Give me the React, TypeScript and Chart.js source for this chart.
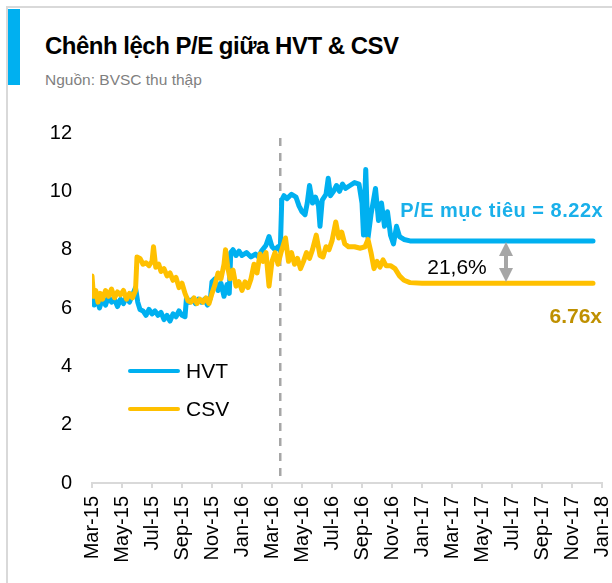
import React, { useEffect, useRef } from "react";
import { Chart, registerables } from "chart.js";

Chart.register(...registerables);

// x values: months since 1 Mar 2015
const tickLabels = [
  "Mar-15", "May-15", "Jul-15", "Sep-15", "Nov-15", "Jan-16", "Mar-16", "May-16", "Jul-16",
  "Sep-16", "Nov-16", "Jan-17", "Mar-17", "May-17", "Jul-17", "Sep-17", "Nov-17", "Jan-18",
];

const hvtMonths = [
  0.0, 0.15, 0.3, 0.5, 0.7, 0.9, 1.1, 1.3, 1.5, 1.7, 1.9, 2.1, 2.3, 2.5, 2.7, 2.9, 3.05, 3.2, 3.4, 3.6,
  3.8, 4.0, 4.2, 4.4, 4.6, 4.8, 5.0, 5.2, 5.4, 5.6, 5.8, 6.0, 6.2, 6.3, 6.5, 6.7, 6.9, 7.1, 7.3, 7.5,
  7.7, 7.9, 8.0, 8.2, 8.4, 8.6, 8.8, 9.0, 9.15, 9.25, 9.4, 9.6, 9.8, 10.0, 10.3, 10.6, 10.9, 11.1, 11.3, 11.6,
  11.8, 12.0, 12.2, 12.4, 12.55, 12.65, 12.8, 13.0, 13.3, 13.6, 13.8, 14.0, 14.2, 14.35, 14.5, 14.7, 14.9, 15.1, 15.2, 15.35,
  15.6, 15.75, 15.9, 16.1, 16.3, 16.5, 16.7, 16.9, 17.2, 17.5, 17.8, 18.0, 18.1, 18.25, 18.4, 18.6, 18.9, 19.1, 19.3, 19.5,
  19.7, 19.9, 20.1, 20.3, 20.5, 20.8, 21.2, 22.0, 33.4,
];
const hvtValues = [
  6.6, 6.1, 6.4, 6.0, 6.35, 6.1, 6.4, 6.2, 6.3, 6.05, 6.3, 6.15, 6.4, 6.2, 6.45, 6.7, 6.2, 5.95, 5.9, 5.75,
  5.95, 5.8, 5.9, 5.75, 5.85, 5.6, 5.75, 5.55, 5.8, 5.7, 5.9, 5.75, 5.7, 6.35, 6.2, 6.3, 6.15, 6.3, 6.2, 6.3,
  6.1, 6.35, 6.9, 7.0, 6.6, 6.85, 6.4, 6.8, 6.5, 7.9, 8.0, 7.8, 7.95, 7.8, 7.9, 7.75, 7.85, 7.75, 7.95, 8.15,
  8.45, 8.1, 8.0, 8.1, 7.95, 9.7, 9.85, 9.75, 9.9, 9.8, 9.5, 9.3, 9.2, 9.6, 10.2, 9.6, 9.8, 9.5, 8.8, 9.7,
  9.9, 10.45, 9.85, 10.0, 10.2, 10.0, 10.25, 10.1, 10.2, 10.3, 10.25, 9.6, 8.5, 10.75, 8.4, 9.2, 10.1, 9.0, 9.6, 8.8,
  9.3, 8.5, 8.2, 8.8, 8.45, 8.35, 8.3, 8.3, 8.3,
];

const csvMonths = [
  0.0, 0.1, 0.25, 0.4, 0.55, 0.7, 0.9, 1.1, 1.3, 1.5, 1.7, 1.9, 2.1, 2.3, 2.5, 2.7, 2.9, 3.0, 3.2, 3.4,
  3.6, 3.8, 4.0, 4.1, 4.25, 4.45, 4.6, 4.8, 5.0, 5.2, 5.4, 5.6, 5.8, 6.0, 6.2, 6.4, 6.6, 6.8, 7.0, 7.2,
  7.4, 7.6, 7.8, 8.0, 8.2, 8.4, 8.6, 8.8, 8.9, 9.05, 9.2, 9.4, 9.6, 9.8, 10.0, 10.2, 10.4, 10.6, 10.8, 11.0,
  11.2, 11.4, 11.6, 11.8, 12.0, 12.2, 12.4, 12.6, 12.9, 13.1, 13.3, 13.5, 13.7, 13.9, 14.1, 14.3, 14.5, 14.7, 14.95, 15.2,
  15.4, 15.6, 15.8, 16.0, 16.25, 16.45, 16.65, 16.85, 17.1, 17.5, 17.9, 18.2, 18.4, 18.6, 18.8, 19.0, 19.2, 19.4, 19.6, 19.9,
  20.2, 20.5, 20.8, 21.2, 22.0, 33.4,
];
const csvValues = [
  7.1, 6.4, 6.6, 6.2, 6.5, 6.3, 6.6, 6.4, 6.65, 6.35, 6.55, 6.45, 6.6, 6.3, 6.5, 6.35, 6.6, 7.75, 7.7, 7.5,
  7.55, 7.45, 7.6, 8.1, 7.4, 7.5, 7.25, 7.35, 7.1, 7.2, 6.95, 7.05, 6.7, 6.85, 6.5, 6.25, 6.2, 6.35, 6.15, 6.3,
  6.2, 6.35, 6.15, 6.5, 6.8, 7.2, 7.0, 7.5, 8.0, 7.4, 7.0, 7.3, 6.75, 6.9, 6.6, 6.9, 6.7, 7.0, 7.5, 7.2,
  7.85, 7.6, 7.9, 6.75, 7.6, 7.9, 7.5, 7.9, 8.4, 7.6, 7.9, 7.5, 7.7, 7.35, 7.6, 7.9, 7.7, 8.0, 8.5, 7.8,
  7.75, 8.1, 8.0, 8.3, 8.95, 8.4, 8.6, 8.2, 8.1, 8.1, 8.05, 8.1, 8.35, 7.9, 7.35, 7.6, 7.4, 7.65, 7.45, 7.45,
  7.35, 7.1, 6.95, 6.87, 6.85, 6.85,
];

const eventMonth = 12.55;
const targetText = "P/E mục tiêu = 8.22x";
const gapText = "21,6%";
const csvText = "6.76x";
const FAMILY = '"Liberation Sans", Arial, sans-serif';
const BLUE = "#00b0f0";
const GOLD = "#ffc000";

export default function App() {
  const ref = useRef<HTMLCanvasElement | null>(null);

  useEffect(() => {
    if (!ref.current) return;
    const annot = {
      id: "annot",
      beforeDatasetsDraw(chart: any) {
        const { ctx, scales } = chart;
        const x = scales.x.getPixelForValue(eventMonth);
        ctx.save();
        ctx.strokeStyle = "#a6a6a6";
        ctx.lineWidth = 2.5;
        ctx.setLineDash([8, 7]);
        ctx.beginPath();
        ctx.moveTo(x, scales.y.getPixelForValue(11.83));
        ctx.lineTo(x, scales.y.getPixelForValue(0));
        ctx.stroke();
        ctx.restore();
      },
      afterDatasetsDraw(chart: any) {
        const { ctx, scales } = chart;
        const xs = scales.x;
        const ys = scales.y;
        ctx.save();
        ctx.font = `bold 20px ${FAMILY}`;
        (ctx as any).letterSpacing = "0.5px";
        ctx.fillStyle = "#1ab0ea";
        ctx.textAlign = "left";
        ctx.textBaseline = "alphabetic";
        ctx.fillText(targetText, xs.getPixelForValue(20.55), ys.getPixelForValue(9.12));
        (ctx as any).letterSpacing = "0px";
        ctx.font = `21px ${FAMILY}`;
        ctx.fillStyle = "#000";
        ctx.fillText(gapText, xs.getPixelForValue(22.35), ys.getPixelForValue(7.16));
        ctx.font = `bold 21px ${FAMILY}`;
        ctx.fillStyle = "#bf9000";
        ctx.textAlign = "right";
        ctx.fillText(csvText, xs.getPixelForValue(34), ys.getPixelForValue(5.5));
        const ax = xs.getPixelForValue(27.6);
        const top = ys.getPixelForValue(hvtValues[hvtValues.length - 1] - 0.04);
        const bot = ys.getPixelForValue(csvValues[csvValues.length - 1] + 0.04);
        const head = 14;
        const hw = 7;
        ctx.fillStyle = "#a6a6a6";
        ctx.beginPath();
        ctx.moveTo(ax, top);
        ctx.lineTo(ax + hw, top + head);
        ctx.lineTo(ax - hw, top + head);
        ctx.closePath();
        ctx.fill();
        ctx.beginPath();
        ctx.moveTo(ax, bot);
        ctx.lineTo(ax + hw, bot - head);
        ctx.lineTo(ax - hw, bot - head);
        ctx.closePath();
        ctx.fill();
        ctx.fillRect(ax - 2, top + head - 1, 4, bot - top - 2 * head + 2);
        ctx.restore();
      },
    };

    const chart = new Chart(ref.current, {
      type: "line",
      data: {
        datasets: [
          {
            label: "HVT",
            data: hvtMonths.map((m, i) => ({ x: m, y: hvtValues[i] })),
            borderColor: BLUE,
            backgroundColor: BLUE,
            borderWidth: 5,
            pointRadius: 0,
            tension: 0,
            order: 1,
            borderJoinStyle: "round",
            borderCapStyle: "round",
          },
          {
            label: "CSV",
            data: csvMonths.map((m, i) => ({ x: m, y: csvValues[i] })),
            borderColor: GOLD,
            backgroundColor: GOLD,
            borderWidth: 5,
            pointRadius: 0,
            tension: 0,
            order: 0,
            borderJoinStyle: "round",
            borderCapStyle: "round",
          },
        ],
      },
      options: {
        responsive: false,
        animation: false,
        layout: { padding: { left: 0, right: 10, top: 133, bottom: 0 } },
        plugins: { legend: { display: false }, tooltip: { enabled: false } },
        scales: {
          x: {
            type: "linear",
            min: 0,
            max: 34,
            afterBuildTicks: (s: any) => {
              s.ticks = tickLabels.map((_, i) => ({ value: i * 2 }));
            },
            ticks: {
              autoSkip: false,
              minRotation: 90,
              maxRotation: 90,
              padding: 8,
              color: "#000",
              font: { family: FAMILY, size: 20 },
              callback: (v: any) => tickLabels[Math.round(Number(v) / 2)],
            },
            grid: { drawOnChartArea: false, color: "#d9d9d9", tickLength: 5, lineWidth: 2 },
            border: { color: "#d9d9d9", width: 2 },
            afterFit: (s: any) => {
              s.height = 100;
              s.paddingLeft = 0;
              s.paddingRight = 0;
            },
          },
          y: {
            min: 0,
            max: 12,
            ticks: { stepSize: 2, padding: 12, color: "#000", font: { family: FAMILY, size: 20 } },
            grid: { display: false },
            border: { display: false },
            afterFit: (s: any) => {
              s.width = 92;
              s.paddingTop = 0;
              s.paddingBottom = 0;
            },
          },
        },
      },
      plugins: [annot],
    } as any);
    return () => chart.destroy();
  }, []);

  const legendItem = (label: string, color: string, top: number) => (
    <div style={{ position: "absolute", left: 128, top, height: 24, display: "flex", alignItems: "center" }}>
      <div style={{ width: 52, height: 4, background: color, borderRadius: 2 }} />
      <span style={{ marginLeft: 6, fontSize: 21, color: "#000", fontFamily: FAMILY, lineHeight: "24px" }}>{label}</span>
    </div>
  );

  return (
    <div style={{ position: "absolute", left: 0, top: 0, width: 612, height: 583, background: "#fff", overflow: "hidden", fontFamily: FAMILY }}>
      <div style={{ position: "absolute", left: 7, top: 6, width: 605, height: 2, background: "#d9d9d9" }} />
      <div style={{ position: "absolute", left: 6, top: 6, width: 2, height: 577, background: "#d9d9d9" }} />
      <div style={{ position: "absolute", left: 8, top: 9, width: 12, height: 76, background: BLUE }} />
      <div style={{ position: "absolute", left: 45, top: 31, fontSize: 24, fontWeight: "bold", letterSpacing: "-0.5px", color: "#000", lineHeight: "30px", whiteSpace: "nowrap" }}>
        Chênh lệch P/E giữa HVT &amp; CSV
      </div>
      <div style={{ position: "absolute", left: 45, top: 70, fontSize: 15.5, color: "#7f7f7f", lineHeight: "20px", whiteSpace: "nowrap" }}>
        Nguồn: BVSC thu thập
      </div>
      <canvas ref={ref} width={612} height={583} style={{ position: "absolute", left: 0, top: 0, display: "block" }} />
      {legendItem("HVT", BLUE, 359)}
      {legendItem("CSV", GOLD, 397)}
    </div>
  );
}
